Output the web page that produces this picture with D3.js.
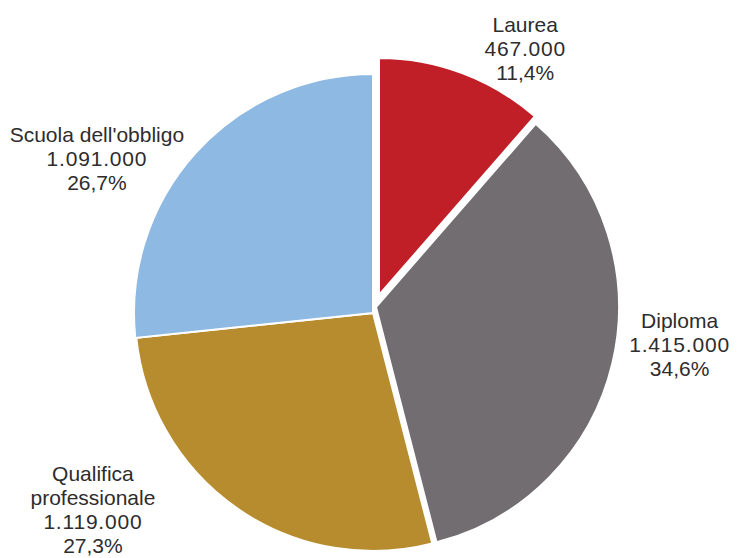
<!DOCTYPE html>
<html>
<head>
<meta charset="utf-8">
<script src="https://cdn.jsdelivr.net/npm/d3@7"></script>
<style>
  html, body { margin: 0; padding: 0; background: #ffffff; }
  svg { display: block; }
  text { font-family: "Liberation Sans", Arial, sans-serif; font-size: 21px; fill: #2e2c2d; }
  text.num { letter-spacing: 0.8px; }
</style>
</head>
<body>
<svg id="chart" width="737" height="558"></svg>
<script>
// ---- data ----
const categories = ["Laurea", "Diploma", "Qualifica professionale", "Scuola dell'obbligo"];
const nameLines  = [["Laurea"], ["Diploma"], ["Qualifica", "professionale"], ["Scuola dell'obbligo"]];
const values     = [467000, 1415000, 1119000, 1091000];
const percents   = ["11,4%", "34,6%", "27,3%", "26,7%"];

// ---- style / layout ----
const colors   = ["#c01f28", "#726d70", "#b78c2f", "#8eb9e2"];
const center   = [373, 313];
const offsets  = [[6, -18], [3, -6], [0, 0], [0, 0]];   // slice displacement
const radii    = [237, 243, 238, 239];
const labelPolar = [[30.6, 299], [97.2, 309], [232.3, 354], [298.1, 313]]; // degrees, distance (value line)
const lineH = 24;

const svg = d3.select("#chart");
svg.append("rect").attr("width", 737).attr("height", 558).attr("fill", "#fff");

const itFmt = d3.formatLocale({decimal: ",", thousands: ".", grouping: [3], currency: ["€", ""]}).format(",d");

const pie = d3.pie().sort(null).value(d => d)(values);

const g = svg.append("g").attr("transform", `translate(${center[0]},${center[1]})`);

g.selectAll("path.slice")
  .data(pie)
  .join("path")
  .attr("class", "slice")
  .attr("transform", (d, i) => `translate(${offsets[i][0]},${offsets[i][1]})`)
  .attr("d", (d, i) => d3.arc().innerRadius(0).outerRadius(radii[i])(d))
  .attr("fill", (d, i) => colors[i])
  .attr("stroke", "#ffffff")
  .attr("stroke-width", 2)
  .attr("stroke-linejoin", "miter");

const labels = g.selectAll("g.label")
  .data(pie)
  .join("g")
  .attr("class", "label")
  .attr("transform", (d, i) => {
    const p = d3.pointRadial(labelPolar[i][0] * Math.PI / 180, labelPolar[i][1]);
    return `translate(${p[0]},${p[1]})`;
  });

labels.each(function(d, i) {
  const sel = d3.select(this);
  const nName = nameLines[i].length;
  const lines = nameLines[i].map(t => ({t, cls: "name"}))
    .concat([{t: itFmt(values[i]), cls: "num"}, {t: percents[i], cls: "pct"}]);
  lines.forEach((l, k) => {
    sel.append("text")
      .attr("class", l.cls)
      .attr("text-anchor", "middle")
      .attr("x", 0)
      .attr("y", (k - nName) * lineH)
      .text(l.t);
  });
});
</script>
</body>
</html>
